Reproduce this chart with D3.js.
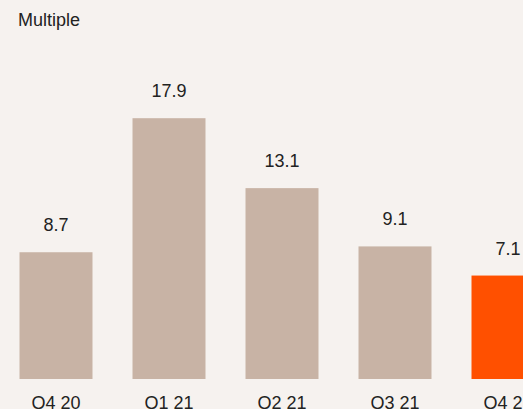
<!DOCTYPE html>
<html>
<head>
<meta charset="utf-8">
<script src="https://cdn.jsdelivr.net/npm/d3@7"></script>
<style>
  html, body { margin: 0; padding: 0; background: #f6f2ef; }
  svg { display: block; }
  text { font-family: "Liberation Sans", Arial, Helvetica, sans-serif; fill: #222; }
</style>
</head>
<body>
<script>
// Quarterly multiples
const categories = ["Q4 20", "Q1 21", "Q2 21", "Q3 21", "Q4 21"];
const values = [8.7, 17.9, 13.1, 9.1, 7.1];
const highlight = ["Q4 21"];

const width = 523, height = 409;
const baseline = 379;

const svg = d3.select("body").append("svg")
  .attr("width", width)
  .attr("height", height);

svg.append("rect").attr("width", width).attr("height", height).attr("fill", "#f6f2ef");

const x = d3.scaleBand()
  .domain(categories)
  .range([-0.5, 564.5])
  .paddingInner(0.354)
  .paddingOuter(0.177);

const y = d3.scaleLinear()
  .domain([0, 20])
  .range([baseline, baseline - 291.4]);

svg.append("text")
  .attr("x", 18)
  .attr("y", 26)
  .attr("font-size", 18)
  .text("Multiple");

const g = svg.append("g");

g.selectAll("rect.bar")
  .data(categories)
  .join("rect")
  .attr("class", "bar")
  .attr("x", d => x(d))
  .attr("width", x.bandwidth())
  .attr("y", (d, i) => y(values[i]))
  .attr("height", (d, i) => y(0) - y(values[i]))
  .attr("fill", d => highlight.includes(d) ? "#ff5000" : "#c8b3a5");

g.selectAll("text.val")
  .data(categories)
  .join("text")
  .attr("class", "val")
  .attr("x", d => x(d) + x.bandwidth() / 2)
  .attr("y", (d, i) => y(values[i]) - 21)
  .attr("text-anchor", "middle")
  .attr("font-size", 18)
  .text((d, i) => values[i].toFixed(1));

const xAxis = d3.axisBottom(x).tickSize(0).tickPadding(0);
const ax = svg.append("g")
  .attr("transform", `translate(0,${baseline + 17})`)
  .call(xAxis);
ax.select(".domain").remove();
ax.selectAll("text")
  .attr("font-size", 18)
  .attr("dy", "0.71em")
  .attr("fill", "#222")
  .attr("font-family", "Liberation Sans, Arial, sans-serif");
</script>
</body>
</html>
